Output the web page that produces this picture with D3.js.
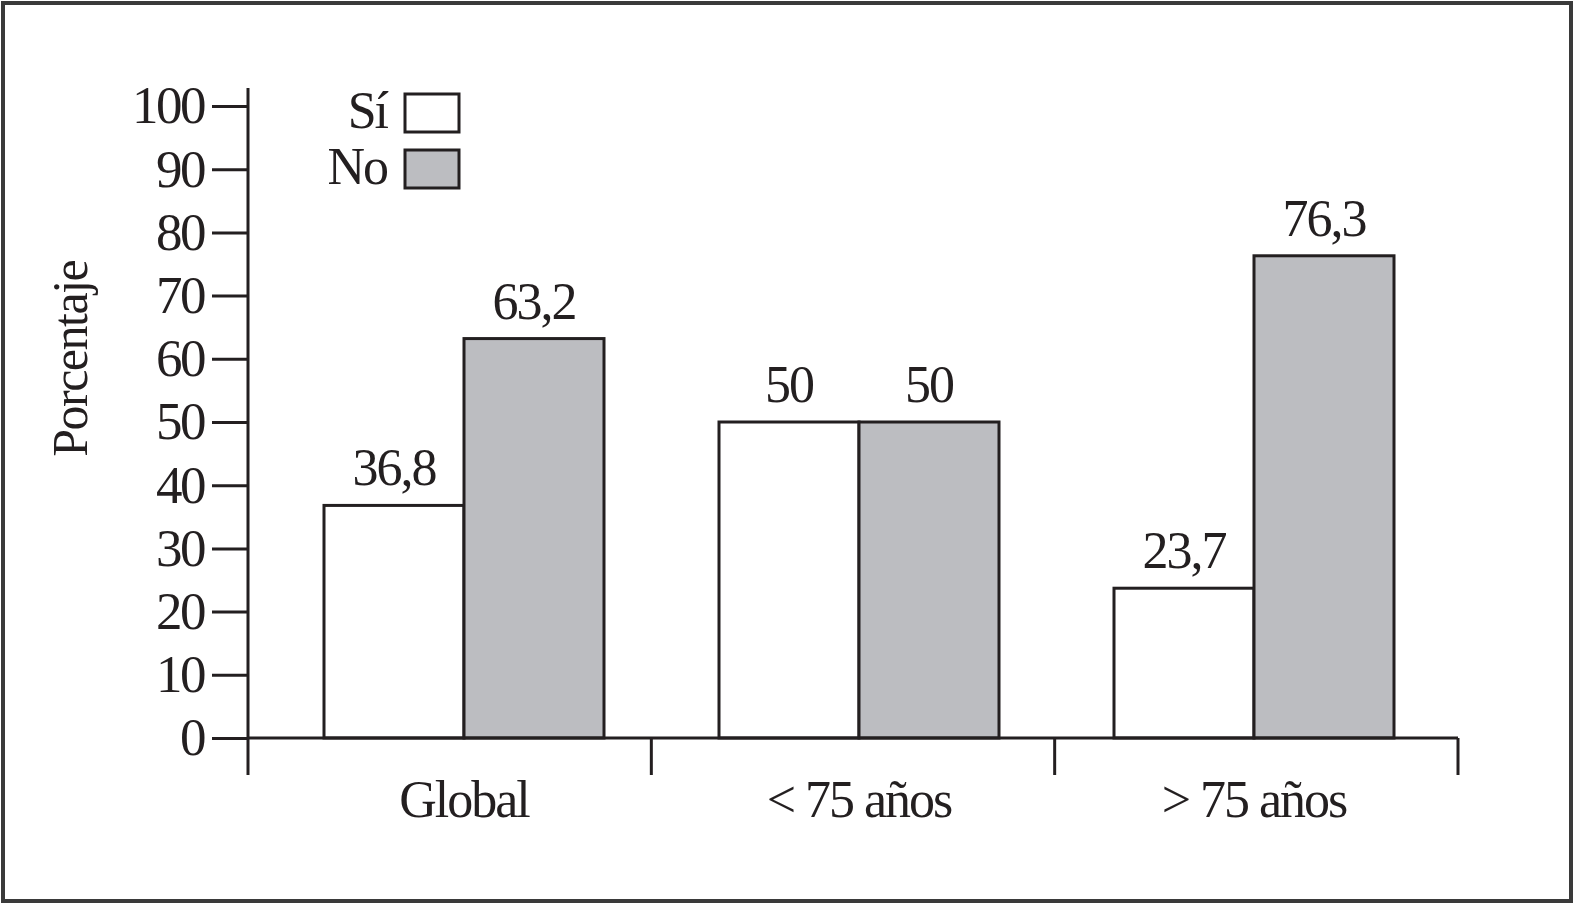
<!DOCTYPE html>
<html>
<head>
<meta charset="utf-8">
<script src="https://cdn.jsdelivr.net/npm/d3@7"></script>
<style>
  body { margin: 0; background: #fff; }
  svg text { font-family: "Liberation Serif", "Times New Roman", serif; fill: #231f20; }
</style>
</head>
<body>
<div id="chart"></div>
<script>
// data
const categories = ["Global", "< 75 años", "> 75 años"];
const seriesNames = ["Sí", "No"];
const siValues = [36.8, 50, 23.7];
const noValues = [63.2, 50, 76.3];
const valueLabels = { "Sí": ["36,8", "50", "23,7"], "No": ["63,2", "50", "76,3"] };
const yTicks = [0, 10, 20, 30, 40, 50, 60, 70, 80, 90, 100];

const width = 1575, height = 905;
const ink = "#231f20", grey = "#bcbdc1";
const fills = { "Sí": "#ffffff", "No": grey };

const svg = d3.select("#chart").append("svg")
  .attr("width", width)
  .attr("height", height);

// outer frame
svg.append("rect")
  .attr("x", 3).attr("y", 3)
  .attr("width", width - 7).attr("height", height - 7)
  .attr("fill", "none")
  .attr("stroke", "#3a3a3a")
  .attr("stroke-width", 4);

const x0 = 248, x1 = 1458, y0 = 738, yTop = 106;

// axis bands (category separators) and the bar groups, which sit on a slightly tighter step
const xScale = d3.scaleBand().domain(categories).range([x0, x1]);
const barScale = d3.scaleBand().domain(categories).range([324, 324 + 3 * 395]);
const xInner = d3.scaleBand().domain(seriesNames).range([0, 280]);
const yScale = d3.scaleLinear().domain([0, 100]).range([y0, yTop]);

// y axis
const yAxis = d3.axisLeft(yScale).tickValues(yTicks).tickSize(36).tickPadding(8);
const gy = svg.append("g")
  .attr("transform", `translate(${x0},0)`)
  .call(yAxis);
gy.select(".domain").attr("d", `M0,${y0}V${yTop - 18}`);
gy.selectAll("path, line").attr("stroke", ink).attr("stroke-width", 3);
gy.selectAll("text")
  .style("font-size", "53px")
  .style("letter-spacing", "-2.5px")
  .attr("fill", ink);

// bars
const rows = categories.map((c, i) => ({ cat: c, "Sí": siValues[i], "No": noValues[i], i }));
const groups = svg.selectAll("g.grp")
  .data(rows)
  .join("g")
  .attr("class", "grp")
  .attr("transform", d => `translate(${barScale(d.cat)},0)`);

groups.selectAll("rect")
  .data(d => seriesNames.map(s => ({ s, v: d[s], i: d.i })))
  .join("rect")
  .attr("x", d => xInner(d.s))
  .attr("y", d => yScale(d.v))
  .attr("width", xInner.bandwidth())
  .attr("height", d => y0 - yScale(d.v))
  .attr("fill", d => fills[d.s])
  .attr("stroke", ink)
  .attr("stroke-width", 3);

groups.selectAll("text.val")
  .data(d => seriesNames.map(s => ({ s, v: d[s], i: d.i })))
  .join("text")
  .attr("class", "val")
  .attr("x", d => xInner(d.s) + xInner.bandwidth() / 2)
  .attr("y", d => yScale(d.v) - 20)
  .attr("text-anchor", "middle")
  .style("font-size", "52px")
  .style("letter-spacing", "-2px")
  .text(d => valueLabels[d.s][d.i]);

// x axis labels, centred under each bar pair
const xAxis = d3.axisBottom(barScale).tickSize(0).tickPadding(42);
const gx = svg.append("g")
  .attr("transform", `translate(${140 - barScale.bandwidth() / 2},${y0})`)
  .call(xAxis);
gx.select(".domain").remove();
gx.selectAll("text")
  .attr("dy", "0.71em")
  .style("font-size", "52px")
  .style("letter-spacing", "-2px")
  .attr("fill", ink);

const gsep = svg.append("g").attr("transform", `translate(0,${y0})`);
gsep.append("path")
  .attr("d", `M${x0},0H${x1}`)
  .attr("stroke", ink).attr("stroke-width", 3);
gsep.selectAll("line.sep")
  .data(d3.range(categories.length + 1))
  .join("line")
  .attr("class", "sep")
  .attr("x1", i => i < categories.length ? xScale(categories[i]) : x1)
  .attr("x2", i => i < categories.length ? xScale(categories[i]) : x1)
  .attr("y1", 0).attr("y2", 37)
  .attr("stroke", ink).attr("stroke-width", 3);

// y axis title
svg.append("text")
  .attr("transform", `translate(87,${(yScale(50) + yScale(70)) / 2}) rotate(-90)`)
  .attr("text-anchor", "middle")
  .style("font-size", "50px")
  .style("letter-spacing", "-1.5px")
  .text("Porcentaje");

// legend
const legend = svg.append("g").selectAll("g")
  .data(seriesNames)
  .join("g")
  .attr("transform", (d, i) => `translate(405,${94 + i * 56})`);
legend.append("rect")
  .attr("width", 54).attr("height", 38)
  .attr("fill", d => fills[d])
  .attr("stroke", ink).attr("stroke-width", 3);
legend.append("text")
  .attr("x", -18).attr("y", 34)
  .attr("text-anchor", "end")
  .style("font-size", "52px")
  .style("letter-spacing", "-2px")
  .text(d => d);
</script>
</body>
</html>
